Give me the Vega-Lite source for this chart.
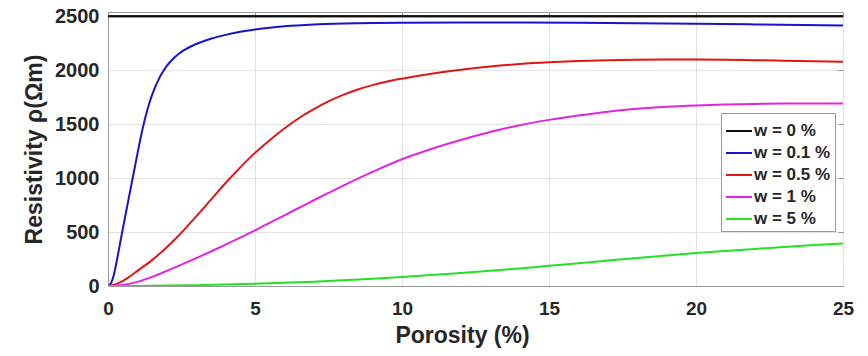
{
  "$schema": "https://vega.github.io/schema/vega-lite/v6.json",
  "autosize": "none",
  "width": 735,
  "height": 274,
  "padding": {"left": 108, "top": 12, "right": 25, "bottom": 70},
  "background": "white",
  "config": {
    "font": "Liberation Sans",
    "view": {"stroke": "#999999", "strokeWidth": 1},
    "axis": {
      "labelFont": "Liberation Sans", "titleFont": "Liberation Sans",
      "labelFontWeight": "bold", "titleFontWeight": "bold",
      "labelColor": "#262626", "titleColor": "#262626",
      "gridColor": "#e3e3e3", "gridWidth": 1,
      "domainColor": "#999999", "tickColor": "#999999"
    }
  },
  "data": {"values": [
    {"x": 0, "y": 2500, "s": "w = 0 %"}, {"x": 5, "y": 2500, "s": "w = 0 %"}, {"x": 10, "y": 2500, "s": "w = 0 %"}, {"x": 15, "y": 2500, "s": "w = 0 %"}, {"x": 20, "y": 2500, "s": "w = 0 %"}, {"x": 25, "y": 2500, "s": "w = 0 %"},
    {"x": 0, "y": 0, "s": "w = 0.1 %"}, {"x": 0.1, "y": 25, "s": "w = 0.1 %"}, {"x": 0.2, "y": 105, "s": "w = 0.1 %"}, {"x": 0.3, "y": 235, "s": "w = 0.1 %"}, {"x": 0.4, "y": 380, "s": "w = 0.1 %"}, {"x": 0.5, "y": 525, "s": "w = 0.1 %"}, {"x": 0.6, "y": 665, "s": "w = 0.1 %"}, {"x": 0.7, "y": 805, "s": "w = 0.1 %"}, {"x": 0.8, "y": 945, "s": "w = 0.1 %"}, {"x": 0.9, "y": 1085, "s": "w = 0.1 %"}, {"x": 1.0, "y": 1225, "s": "w = 0.1 %"}, {"x": 1.1, "y": 1360, "s": "w = 0.1 %"}, {"x": 1.2, "y": 1485, "s": "w = 0.1 %"}, {"x": 1.3, "y": 1595, "s": "w = 0.1 %"}, {"x": 1.4, "y": 1690, "s": "w = 0.1 %"}, {"x": 1.5, "y": 1772, "s": "w = 0.1 %"}, {"x": 1.6, "y": 1842, "s": "w = 0.1 %"}, {"x": 1.7, "y": 1902, "s": "w = 0.1 %"}, {"x": 1.8, "y": 1955, "s": "w = 0.1 %"}, {"x": 1.9, "y": 2000, "s": "w = 0.1 %"}, {"x": 2.0, "y": 2040, "s": "w = 0.1 %"}, {"x": 2.2, "y": 2102, "s": "w = 0.1 %"}, {"x": 2.4, "y": 2150, "s": "w = 0.1 %"}, {"x": 2.6, "y": 2188, "s": "w = 0.1 %"}, {"x": 2.8, "y": 2218, "s": "w = 0.1 %"}, {"x": 3.0, "y": 2243, "s": "w = 0.1 %"}, {"x": 3.5, "y": 2292, "s": "w = 0.1 %"}, {"x": 4, "y": 2328, "s": "w = 0.1 %"}, {"x": 4.5, "y": 2356, "s": "w = 0.1 %"}, {"x": 5, "y": 2377, "s": "w = 0.1 %"}, {"x": 5.5, "y": 2394, "s": "w = 0.1 %"}, {"x": 6, "y": 2407, "s": "w = 0.1 %"}, {"x": 7, "y": 2424, "s": "w = 0.1 %"}, {"x": 8, "y": 2433, "s": "w = 0.1 %"}, {"x": 9, "y": 2438, "s": "w = 0.1 %"}, {"x": 10, "y": 2441, "s": "w = 0.1 %"}, {"x": 12, "y": 2442, "s": "w = 0.1 %"}, {"x": 14, "y": 2442, "s": "w = 0.1 %"}, {"x": 16, "y": 2440, "s": "w = 0.1 %"}, {"x": 18, "y": 2436, "s": "w = 0.1 %"}, {"x": 20, "y": 2431, "s": "w = 0.1 %"}, {"x": 22, "y": 2425, "s": "w = 0.1 %"}, {"x": 25, "y": 2415, "s": "w = 0.1 %"},
    {"x": 0, "y": 0, "s": "w = 0.5 %"}, {"x": 0.25, "y": 15, "s": "w = 0.5 %"}, {"x": 0.5, "y": 45, "s": "w = 0.5 %"}, {"x": 0.75, "y": 90, "s": "w = 0.5 %"}, {"x": 1, "y": 140, "s": "w = 0.5 %"}, {"x": 1.5, "y": 240, "s": "w = 0.5 %"}, {"x": 2, "y": 360, "s": "w = 0.5 %"}, {"x": 2.5, "y": 495, "s": "w = 0.5 %"}, {"x": 3, "y": 645, "s": "w = 0.5 %"}, {"x": 3.5, "y": 800, "s": "w = 0.5 %"}, {"x": 4, "y": 955, "s": "w = 0.5 %"}, {"x": 4.5, "y": 1100, "s": "w = 0.5 %"}, {"x": 5, "y": 1234, "s": "w = 0.5 %"}, {"x": 5.5, "y": 1352, "s": "w = 0.5 %"}, {"x": 6, "y": 1460, "s": "w = 0.5 %"}, {"x": 6.5, "y": 1557, "s": "w = 0.5 %"}, {"x": 7, "y": 1640, "s": "w = 0.5 %"}, {"x": 7.5, "y": 1712, "s": "w = 0.5 %"}, {"x": 8, "y": 1772, "s": "w = 0.5 %"}, {"x": 8.5, "y": 1822, "s": "w = 0.5 %"}, {"x": 9, "y": 1862, "s": "w = 0.5 %"}, {"x": 9.5, "y": 1895, "s": "w = 0.5 %"}, {"x": 10, "y": 1922, "s": "w = 0.5 %"}, {"x": 11, "y": 1968, "s": "w = 0.5 %"}, {"x": 12, "y": 2005, "s": "w = 0.5 %"}, {"x": 13, "y": 2035, "s": "w = 0.5 %"}, {"x": 14, "y": 2058, "s": "w = 0.5 %"}, {"x": 15, "y": 2074, "s": "w = 0.5 %"}, {"x": 16, "y": 2085, "s": "w = 0.5 %"}, {"x": 17, "y": 2092, "s": "w = 0.5 %"}, {"x": 18, "y": 2097, "s": "w = 0.5 %"}, {"x": 19, "y": 2099, "s": "w = 0.5 %"}, {"x": 20, "y": 2099, "s": "w = 0.5 %"}, {"x": 21, "y": 2097, "s": "w = 0.5 %"}, {"x": 22, "y": 2093, "s": "w = 0.5 %"}, {"x": 23, "y": 2089, "s": "w = 0.5 %"}, {"x": 24, "y": 2084, "s": "w = 0.5 %"}, {"x": 25, "y": 2078, "s": "w = 0.5 %"},
    {"x": 0, "y": 0, "s": "w = 1 %"}, {"x": 0.5, "y": 10, "s": "w = 1 %"}, {"x": 1, "y": 38, "s": "w = 1 %"}, {"x": 1.5, "y": 85, "s": "w = 1 %"}, {"x": 2, "y": 140, "s": "w = 1 %"}, {"x": 2.5, "y": 198, "s": "w = 1 %"}, {"x": 3, "y": 258, "s": "w = 1 %"}, {"x": 3.5, "y": 320, "s": "w = 1 %"}, {"x": 4, "y": 383, "s": "w = 1 %"}, {"x": 4.5, "y": 448, "s": "w = 1 %"}, {"x": 5, "y": 515, "s": "w = 1 %"}, {"x": 5.5, "y": 585, "s": "w = 1 %"}, {"x": 6, "y": 655, "s": "w = 1 %"}, {"x": 6.5, "y": 725, "s": "w = 1 %"}, {"x": 7, "y": 795, "s": "w = 1 %"}, {"x": 7.5, "y": 863, "s": "w = 1 %"}, {"x": 8, "y": 930, "s": "w = 1 %"}, {"x": 9, "y": 1058, "s": "w = 1 %"}, {"x": 10, "y": 1175, "s": "w = 1 %"}, {"x": 11, "y": 1270, "s": "w = 1 %"}, {"x": 12, "y": 1353, "s": "w = 1 %"}, {"x": 13, "y": 1427, "s": "w = 1 %"}, {"x": 14, "y": 1490, "s": "w = 1 %"}, {"x": 15, "y": 1540, "s": "w = 1 %"}, {"x": 16, "y": 1580, "s": "w = 1 %"}, {"x": 17, "y": 1615, "s": "w = 1 %"}, {"x": 18, "y": 1643, "s": "w = 1 %"}, {"x": 19, "y": 1662, "s": "w = 1 %"}, {"x": 20, "y": 1674, "s": "w = 1 %"}, {"x": 21, "y": 1682, "s": "w = 1 %"}, {"x": 22, "y": 1688, "s": "w = 1 %"}, {"x": 23, "y": 1691, "s": "w = 1 %"}, {"x": 24, "y": 1692, "s": "w = 1 %"}, {"x": 25, "y": 1692, "s": "w = 1 %"},
    {"x": 0, "y": 0, "s": "w = 5 %"}, {"x": 1, "y": 1, "s": "w = 5 %"}, {"x": 2, "y": 4, "s": "w = 5 %"}, {"x": 3, "y": 8, "s": "w = 5 %"}, {"x": 4, "y": 13, "s": "w = 5 %"}, {"x": 5, "y": 20, "s": "w = 5 %"}, {"x": 6, "y": 29, "s": "w = 5 %"}, {"x": 7, "y": 40, "s": "w = 5 %"}, {"x": 8, "y": 53, "s": "w = 5 %"}, {"x": 9, "y": 67, "s": "w = 5 %"}, {"x": 10, "y": 83, "s": "w = 5 %"}, {"x": 11, "y": 101, "s": "w = 5 %"}, {"x": 12, "y": 120, "s": "w = 5 %"}, {"x": 13, "y": 141, "s": "w = 5 %"}, {"x": 14, "y": 163, "s": "w = 5 %"}, {"x": 15, "y": 187, "s": "w = 5 %"}, {"x": 16, "y": 211, "s": "w = 5 %"}, {"x": 17, "y": 236, "s": "w = 5 %"}, {"x": 18, "y": 260, "s": "w = 5 %"}, {"x": 19, "y": 283, "s": "w = 5 %"}, {"x": 20, "y": 305, "s": "w = 5 %"}, {"x": 21, "y": 325, "s": "w = 5 %"}, {"x": 22, "y": 344, "s": "w = 5 %"}, {"x": 23, "y": 362, "s": "w = 5 %"}, {"x": 24, "y": 379, "s": "w = 5 %"}, {"x": 25, "y": 395, "s": "w = 5 %"}
  ]},
  "layer": [
    {
      "mark": {"type": "line", "strokeWidth": 2, "interpolate": "monotone", "clip": true},
      "encoding": {
        "x": {"field": "x", "type": "quantitative", "scale": {"domain": [0, 25], "nice": false, "zero": false},
          "axis": {"orient": "bottom", "values": [0, 5, 10, 15, 20, 25], "title": "Porosity (%)", "labelFontSize": 19, "titleFontSize": 23, "labelPadding": 13, "ticks": false, "domain": true, "labelFlush": false, "titleX": 354, "titleY": 56, "titleBaseline": "alphabetic"}},
        "y": {"field": "y", "type": "quantitative", "scale": {"domain": [0, 2540], "nice": false, "zero": false},
          "axis": {"orient": "left", "values": [0, 500, 1000, 1500, 2000, 2500], "format": "d", "title": "Resistivity ρ(Ωm)", "labelFontSize": 20, "titleFontSize": 23, "labelPadding": 9, "ticks": false, "domain": true, "labelFlush": false, "titlePadding": 8}},
        "color": {"field": "s", "type": "nominal",
          "scale": {"domain": ["w = 0 %", "w = 0.1 %", "w = 0.5 %", "w = 1 %", "w = 5 %"], "range": ["#111111", "#1515d0", "#e01515", "#e025e0", "#25e025"]},
          "legend": {"title": null, "orient": "none", "legendX": 613, "legendY": 101, "direction": "vertical",
            "symbolType": "stroke", "symbolSize": 676, "symbolStrokeWidth": 2, "labelFontSize": 17, "labelFont": "Liberation Sans", "labelFontWeight": "bold", "labelColor": "#262626", "labelOffset": 1, "rowPadding": -3, "padding": 4, "fillColor": "white", "strokeColor": "#999999"}}
      }
    },
    {
      "mark": {"type": "line", "strokeWidth": 2, "clip": true},
      "transform": [{"filter": "datum.s === 'w = 0 %'"}],
      "encoding": {
        "x": {"field": "x", "type": "quantitative", "axis": {"orient": "top", "values": [0, 5, 10, 15, 20, 25], "labels": false, "title": null, "grid": false, "domain": false, "ticks": true, "tickSize": -5}},
        "y": {"field": "y", "type": "quantitative", "axis": {"orient": "right", "values": [0, 500, 1000, 1500, 2000, 2500], "labels": false, "title": null, "grid": false, "domain": false, "ticks": true, "tickSize": -5}},
        "color": {"field": "s", "type": "nominal"}
      }
    }
  ],
  "resolve": {"axis": {"x": "independent", "y": "independent"}}
}
